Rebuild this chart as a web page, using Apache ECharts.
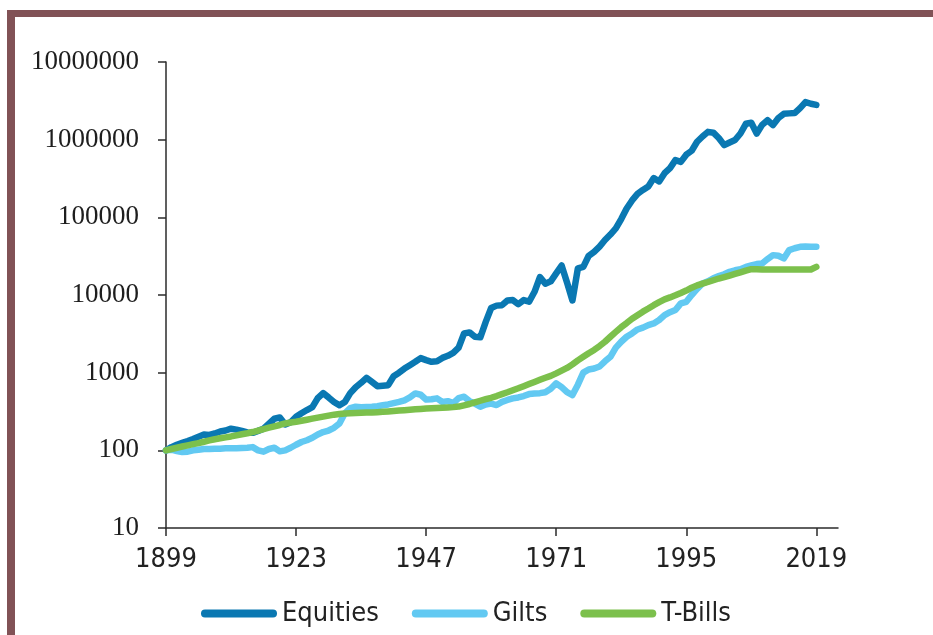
<!DOCTYPE html>
<html>
<head>
<meta charset="utf-8">
<script src="https://cdn.jsdelivr.net/npm/echarts@6/dist/echarts.min.js"></script>
<style>
  html, body { margin: 0; padding: 0; background: #ffffff; }
  #chart { width: 933px; height: 635px; }
</style>
</head>
<body>
<div id="chart"></div>
<script>
// Cumulative total-return indices (1899 = 100), log scale
const firstYear = 1899;
const lastYear = 2019;
const axisEndYear = 2023;
const tickYears = [1899, 1923, 1947, 1971, 1995, 2019];

const equities = [
  100, 110, 118, 125, 132, 140, 150, 160, 158, 165,
  175, 180, 190, 185, 178, 170, 168, 178, 190, 220,
  255, 265, 215, 230, 270, 300, 330, 360, 470, 545,
  480, 420, 380, 420, 545, 650, 740, 860, 760, 670,
  680, 690, 900, 1000, 1130, 1250, 1380, 1540, 1450, 1380,
  1400, 1550, 1650, 1800, 2100, 3200, 3300, 2900, 2850, 4500,
  6800, 7300, 7400, 8500, 8600, 7600, 8600, 8200, 11000, 17000,
  14000, 15000, 19000, 24000, 14500, 8500, 22000, 23000, 32000, 36000,
  42000, 51000, 60000, 72000, 95000, 130000, 165000, 200000, 225000, 250000,
  320000, 290000, 370000, 430000, 545000, 518000, 640000, 720000, 940000, 1100000,
  1260000, 1230000, 1050000, 850000, 920000, 990000, 1200000, 1600000, 1650000, 1200000,
  1550000, 1780000, 1540000, 1900000, 2150000, 2180000, 2200000, 2550000, 3050000, 2900000,
  2800000
];

const gilts = [
  100, 102, 98, 95, 96, 100, 102, 104, 104, 105,
  105, 106, 106, 106, 107, 108, 110, 100, 96, 104,
  108, 97, 100, 108, 118, 128, 135, 145, 160, 172,
  180, 195, 222, 300, 350, 365, 360, 362, 365, 370,
  380, 390, 405, 420, 440, 480, 540, 520, 450, 455,
  467, 420, 430, 405, 470, 490, 430, 400, 365, 390,
  400, 383, 420, 445, 467, 480, 500, 530, 540, 545,
  560, 620, 730, 650, 560, 515, 700, 1000, 1100, 1130,
  1200, 1400, 1600, 2100, 2500, 2900, 3200, 3600, 3800, 4100,
  4300, 4760, 5500, 6000, 6400, 7800, 8170, 10000, 12000, 14100,
  15000, 16400, 17500, 18500, 19900, 20800, 21500, 23000, 24000, 25000,
  25500, 29000, 32600, 32000, 29600, 37900, 40000, 41700, 42000, 41700,
  41700
];

const tBills = [
  100, 104, 108, 112, 116, 120, 124, 129, 134, 139,
  143, 147, 151, 156, 161, 166, 172, 180, 188, 196,
  204, 212, 222, 228, 233, 240, 248, 256, 264, 272,
  280, 288, 294, 298, 300, 302, 304, 306, 308, 310,
  313, 316, 320, 325, 329, 333, 337, 341, 345, 348,
  351, 354, 357, 360, 366, 380, 395, 415, 435, 455,
  475, 500, 530, 560, 595, 630, 670, 715, 760, 810,
  860, 910, 980, 1060, 1150, 1280, 1440, 1600, 1780, 1960,
  2200, 2500, 2900, 3350, 3850, 4350, 4950, 5500, 6100, 6700,
  7400, 8100, 8800, 9300, 9900, 10600, 11400, 12400, 13300, 14000,
  14700, 15500, 16300, 17000, 17800, 18700, 19600, 20600, 21500, 21500,
  21300, 21300, 21300, 21300, 21300, 21300, 21300, 21300, 21300, 21300,
  23000
];

const seriesNames = ['Equities', 'Gilts', 'T-Bills'];
const seriesColors = ['#0a78b2', '#62c9f2', '#7cc04c'];

// Category axis runs a few years past the last observation
const years = [];
for (let y = firstYear; y <= axisEndYear; y++) years.push(String(y));

const frameColor = '#815256';
const axisColor = '#2b2b2b';
const sansFont = "'Liberation Sans Narrow', 'DejaVu Sans Condensed', 'Liberation Sans', sans-serif";
const serifFont = "'Liberation Serif', 'DejaVu Serif', serif";

const isTickYear = (idx, val) => tickYears.indexOf(Number(val)) !== -1;

const chart = echarts.init(document.getElementById('chart'), null, { renderer: 'canvas' });

chart.setOption({
  backgroundColor: '#ffffff',
  animation: false,
  graphic: [
    { type: 'rect', shape: { x: 7, y: 10, width: 926, height: 7 }, style: { fill: frameColor }, silent: true },
    { type: 'rect', shape: { x: 7, y: 10, width: 8, height: 625 }, style: { fill: frameColor }, silent: true }
  ],
  grid: { left: 166, right: 95, top: 62, bottom: 107, containLabel: false },
  legend: {
    left: 196,
    top: 595,
    itemGap: 33,
    itemWidth: 76,
    itemHeight: 8,
    icon: 'path://M4,0 L72,0 A4,4 0 0 1 72,8 L4,8 A4,4 0 0 1 4,0 Z',
    textStyle: { fontFamily: sansFont, fontSize: 27, color: '#222222' },
    data: seriesNames
  },
  xAxis: {
    type: 'category',
    data: years,
    boundaryGap: false,
    axisLine: { lineStyle: { color: axisColor, width: 1.5 } },
    axisTick: { show: true, interval: isTickYear, length: 8, lineStyle: { color: axisColor, width: 1.5 } },
    axisLabel: {
      interval: isTickYear,
      margin: 18,
      fontFamily: sansFont,
      fontSize: 27,
      color: '#222222'
    },
    splitLine: { show: false }
  },
  yAxis: {
    type: 'log',
    logBase: 10,
    min: 10,
    max: 10000000,
    axisLine: { show: true, lineStyle: { color: axisColor, width: 1.5 } },
    axisTick: { show: true, length: 8, lineStyle: { color: axisColor, width: 1.5 } },
    axisLabel: {
      margin: 27,
      fontFamily: serifFont,
      fontSize: 27,
      color: '#1e1e1e',
      formatter: (v) => String(Math.round(v))
    },
    splitLine: { show: false }
  },
  series: [
    { name: seriesNames[0], data: equities, color: seriesColors[0] },
    { name: seriesNames[1], data: gilts, color: seriesColors[1] },
    { name: seriesNames[2], data: tBills, color: seriesColors[2] }
  ].map((s) => ({
    type: 'line',
    name: s.name,
    data: s.data,
    showSymbol: false,
    symbol: 'none',
    smooth: false,
    itemStyle: { color: s.color },
    lineStyle: { color: s.color, width: 6.5, cap: 'round', join: 'round' }
  }))
});
</script>
</body>
</html>
